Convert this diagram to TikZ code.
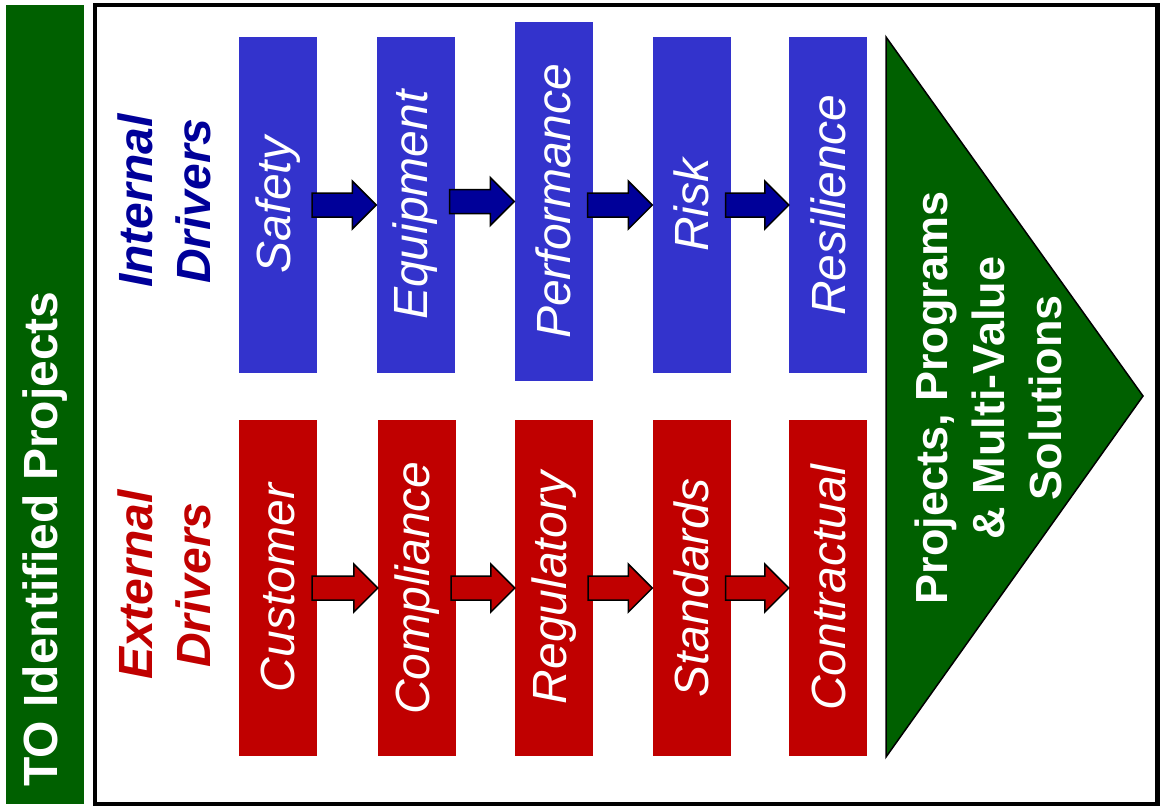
\documentclass[tikz,border=0pt]{standalone}
\usepackage{fontspec}
\setmainfont{Liberation Sans}
\usetikzlibrary{calc}
\definecolor{boxblue}{HTML}{3333CC}
\definecolor{navy}{HTML}{000099}
\definecolor{boxred}{HTML}{C00000}
\definecolor{dkgreen}{HTML}{006000}
\newcommand\flowarrow[3]{%
  \draw[#3] let \p1=(#1.east), \p2=(#2.west) in
    (\x1-5pt,\y2+12pt) -- (\x2-24pt,\y2+12pt) -- (\x2-24pt,\y2+24pt) -- (\x2,\y2)
    -- (\x2-24pt,\y2-24pt) -- (\x2-24pt,\y2-12pt) -- (\x1-5pt,\y2-12pt) -- cycle;}
\begin{document}
\begin{tikzpicture}[x=1pt,y=-1pt,
  boxlbl/.style={inner sep=0pt, minimum width=78pt, minimum height=336pt, text=white,
    font=\fontsize{48}{58}\selectfont\itshape},
  bluebox/.style={boxlbl, fill=boxblue},
  redbox/.style={boxlbl, fill=boxred},
  barrow/.style={fill=navy, draw=black, line width=1.5pt, line join=miter},
  rarrow/.style={fill=boxred, draw=black, line width=1.5pt, line join=miter},
  drvlbl/.style={rotate=90, align=center, inner sep=0pt, font=\fontsize{48}{58}\selectfont\bfseries\itshape},
  whitelbl/.style={rotate=90, align=center, inner sep=0pt, text=white}
]
\useasboundingbox (0,0) rectangle (1162,806);
% left green bar
\fill[dkgreen] (6,5) rectangle (84,804);
\node[whitelbl, font=\fontsize{48}{58}\selectfont\bfseries] (title) at (45,539) {TO Identified Projects};
% main frame
\draw[line width=4.5pt] (95,5) rectangle (1157.5,804);
% drivers labels
\node[drvlbl, text=navy] (internal) at (164,201) {Internal\\Drivers};
\node[drvlbl, text=boxred] (external) at (164,585) {External\\Drivers};
% blue boxes
\node[bluebox] (safety) at (278,205) {\rotatebox{90}{Safety}};
\node[bluebox] (equipment) at (415.5,205) {\rotatebox{90}{Equipment}};
\node[bluebox, minimum height=359pt] (performance) at (553.5,201.5) {\rotatebox{90}{Performance}};
\node[bluebox] (risk) at (691.5,205) {\rotatebox{90}{Risk}};
\node[bluebox] (resilience) at (828,205) {\rotatebox{90}{Resilience}};
% red boxes
\node[redbox] (customer) at (278,588) {\rotatebox{90}{Customer}};
\node[redbox] (compliance) at (417,588) {\rotatebox{90}{Compliance}};
\node[redbox] (regulatory) at (554,588) {\rotatebox{90}{Regulatory}};
\node[redbox] (standards) at (691.5,588) {\rotatebox{90}{Standards}};
\node[redbox] (contractual) at (828,588) {\rotatebox{90}{Contractual}};
% arrows
\flowarrow{safety}{equipment}{barrow}
\flowarrow{equipment}{performance}{barrow}
\flowarrow{performance}{risk}{barrow}
\flowarrow{risk}{resilience}{barrow}
\flowarrow{customer}{compliance}{rarrow}
\flowarrow{compliance}{regulatory}{rarrow}
\flowarrow{regulatory}{standards}{rarrow}
\flowarrow{standards}{contractual}{rarrow}
% output triangle
\coordinate (tritop) at (886,37);
\coordinate (tritip) at (1143,396);
\coordinate (tribot) at (886,757);
\draw[fill=dkgreen, line width=1.5pt, line join=miter] (tritop) -- (tritip) -- (tribot) -- cycle;
\node[whitelbl, font=\fontsize{45}{57}\selectfont\bfseries] (outcome) at (988,398)
  {Projects, Programs\\\& Multi-Value\\Solutions};
\end{tikzpicture}
\end{document}
